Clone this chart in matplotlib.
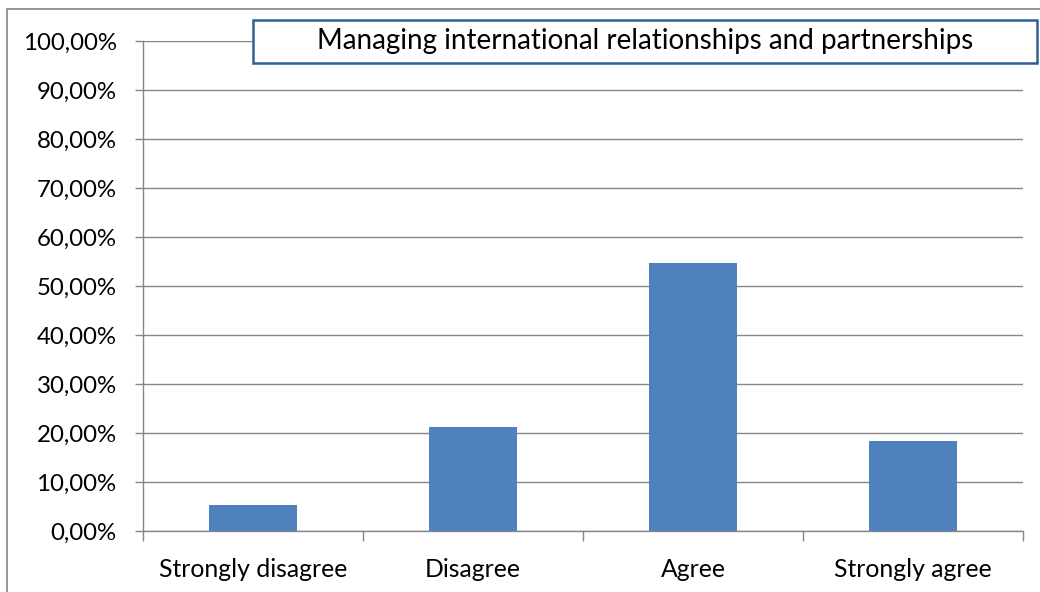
import matplotlib.pyplot as plt
from matplotlib.patches import Rectangle
from matplotlib.ticker import FuncFormatter, MultipleLocator

plt.rcParams['font.family'] = ['Lato', 'DejaVu Sans']

# Datos del gráfico
categorias = ["Strongly disagree", "Disagree", "Agree", "Strongly agree"]
porcentajes = [5.3, 21.2, 54.7, 18.3]
titulo = "Managing international relationships and partnerships"

W, H = 1040, 592
fig = plt.figure(figsize=(W / 100, H / 100), dpi=100)

# Área de trazado (coordenadas en píxeles convertidas a fracciones)
x0, x1, y_top, y_bot = 143, 1023, 41, 531
ax = fig.add_axes([x0 / W, 1 - y_bot / H, (x1 - x0) / W, (y_bot - y_top) / H])

posiciones = range(len(categorias))
ax.bar(posiciones, porcentajes, width=0.4, color="#4f81bd", zorder=3)

ax.set_xlim(-0.5, len(categorias) - 0.5)
ax.set_ylim(0, 100)
ax.yaxis.set_major_locator(MultipleLocator(10))
ax.yaxis.set_major_formatter(FuncFormatter(lambda v, p: f"{v:.2f}".replace(".", ",") + "%"))
ax.grid(axis="y", color="#868686", linewidth=1, zorder=0)

ax.set_xticks([p - 0.5 for p in range(len(categorias) + 1)], minor=False)
ax.set_xticklabels([])
ax.set_xticks(list(posiciones), minor=True)
ax.set_xticklabels(categorias, minor=True)
ax.tick_params(axis="x", which="minor", length=0, pad=19.5, labelsize=17.8, labelcolor="black")
ax.tick_params(axis="x", which="major", length=7, color="#868686", width=1)
ax.tick_params(axis="y", length=6, color="#868686", width=1, pad=13, labelsize=17.3)

for lado in ["top", "right"]:
    ax.spines[lado].set_visible(False)
for lado in ["left", "bottom"]:
    ax.spines[lado].set_color("#868686")
    ax.spines[lado].set_linewidth(1)

# Borde exterior del gráfico
fig.patches.append(Rectangle((7 / W, -0.05), 1.1, 1 - 9 / H + 0.05, transform=fig.transFigure,
                             fill=False, edgecolor="#868686", linewidth=1.2))

# Cuadro del título
fig.patches.append(Rectangle((253 / W, 1 - 63 / H), (1037 - 253) / W, 43 / H, transform=fig.transFigure,
                             facecolor="white", edgecolor="#2f5f93", linewidth=1.8, zorder=5))
fig.text((253 + 1037) / 2 / W, 1 - 41 / H, titulo, ha="center", va="center", fontsize=20, zorder=6)

fig.savefig("out.png", dpi=100)
